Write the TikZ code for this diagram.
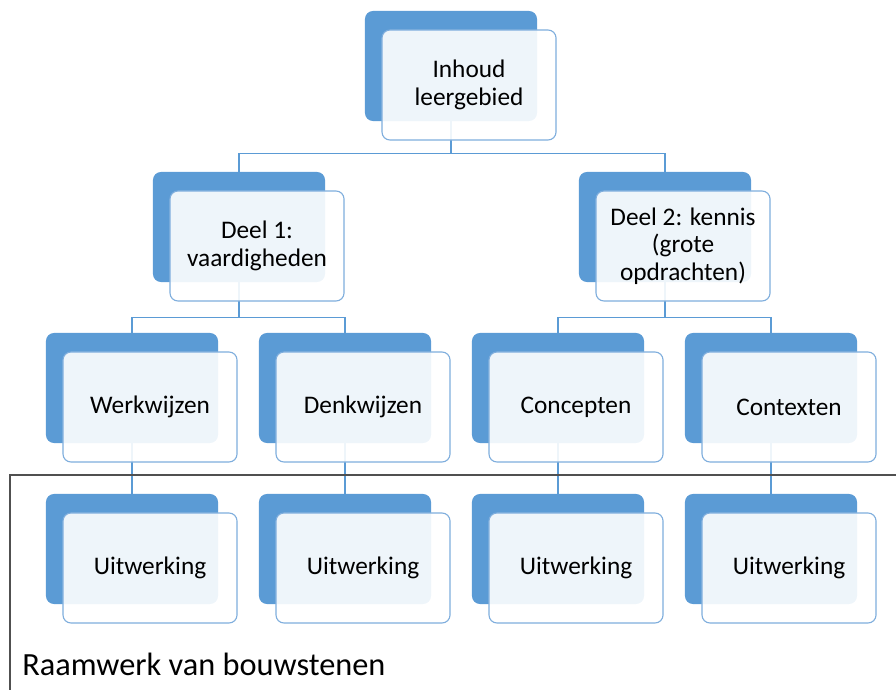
\documentclass[tikz,border=0pt]{standalone}
\usepackage{fontspec}
\setmainfont{Carlito}
\usepackage{tikz}
\usetikzlibrary{positioning,calc}
\definecolor{accent}{HTML}{5B9BD5}
\definecolor{rim}{HTML}{7FAEDD}
\definecolor{kader}{HTML}{505050}
\tikzstyle{back}  = [rectangle, rounded corners=2mm, fill=accent, minimum width=4.3cm,
                     minimum height=2.75cm, inner sep=0pt]
\tikzstyle{front} = [rectangle, rounded corners=2mm, draw=rim, line width=0.8pt, fill=white,
                     fill opacity=0.9, text opacity=1, minimum width=4.35cm, minimum height=2.75cm,
                     align=center, text=black, font=\fontsize{18}{19.5}\selectfont]
\tikzstyle{link}  = [draw=accent, line width=0.9pt]
\tikzstyle{frame} = [draw=kader, line width=1.4pt]

\begin{document}
\begin{tikzpicture}[x=0.025cm, y=-0.025cm]
        \useasboundingbox (0,0) rectangle (896,690);

        % achterste vlakken
        \node[back] (top)   at (451,66)  {};
        \node[back] (deel1) at (239,227) {};
        \node[back] (deel2) at (665,227) {};
        \node[back] (werk)  at (132,388) {};
        \node[back] (denk)  at (345,388) {};
        \node[back] (conc)  at (558,388) {};
        \node[back] (cont)  at (771,388) {};
        \node[back] (uitw1) at (132,549) {};
        \node[back] (uitw2) at (345,549) {};
        \node[back] (uitw3) at (558,549) {};
        \node[back] (uitw4) at (771,549) {};

        % verbindingen
        \draw[link] (top.south) -- ++(0,32) -| (deel1.north);
        \draw[link] (top.south) -- ++(0,32) -| (deel2.north);
        \draw[link] (deel1.south) -- ++(0,35) -| (werk.north);
        \draw[link] (deel1.south) -- ++(0,35) -| (denk.north);
        \draw[link] (deel2.south) -- ++(0,35) -| (conc.north);
        \draw[link] (deel2.south) -- ++(0,35) -| (cont.north);
        \draw[link] (werk.south) -- (uitw1.north);
        \draw[link] (denk.south) -- (uitw2.north);
        \draw[link] (conc.south) -- (uitw3.north);
        \draw[link] (cont.south) -- (uitw4.north);

        % voorvlakken
        \node[front] (topf)   at ([shift={(18,19)}]top)   {Inhoud\\leergebied};
        \node[front] (deel1f) at ([shift={(18,19)}]deel1) {Deel 1:\\vaardigheden};
        \node[front] (deel2f) at ([shift={(18,19)}]deel2) {Deel 2: kennis\\(grote\\opdrachten)};
        \node[front] (werkf)  at ([shift={(18,19)}]werk)  {Werkwijzen};
        \node[front] (denkf)  at ([shift={(18,19)}]denk)  {Denkwijzen};
        \node[front] (concf)  at ([shift={(18,19)}]conc)  {Concepten};
        \node[front] (contf)  at ([shift={(18,19)}]cont)  {Contexten};
        \node[front] (uitw1f) at ([shift={(18,19)}]uitw1) {Uitwerking};
        \node[front] (uitw2f) at ([shift={(18,19)}]uitw2) {Uitwerking};
        \node[front] (uitw3f) at ([shift={(18,19)}]uitw3) {Uitwerking};
        \node[front] (uitw4f) at ([shift={(18,19)}]uitw4) {Uitwerking};

        % kader
        \coordinate (kaderlo) at (10,690);
        \coordinate (kaderlb) at (10,475);
        \coordinate (kaderrb) at (896,475);
        \draw[frame] (kaderlo) -- (kaderlb) -- (kaderrb);
        \node[anchor=base west, inner sep=0pt, text=black, font=\fontsize{23}{27}\selectfont]
            (raamwerk) at (22,675) {Raamwerk van bouwstenen};
\end{tikzpicture}
\end{document}
